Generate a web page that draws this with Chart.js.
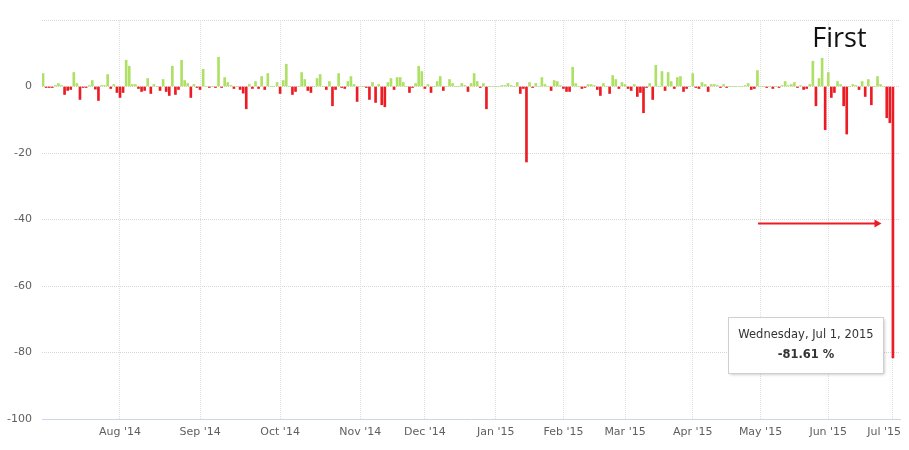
<!DOCTYPE html>
<html>
<head>
<meta charset="utf-8">
<title>Daily change</title>
<script src="https://cdn.jsdelivr.net/npm/chart.js@4.4.0/dist/chart.umd.min.js"></script>
<style>
  html, body { margin: 0; padding: 0; background: #fff; }
  #wrap { width: 909px; height: 450px; position: relative; }
</style>
</head>
<body>
<div id="wrap"><canvas id="chart"></canvas></div>
<script>
// Daily change in %, one bar per trading day (ordinal axis), last point = Jul 1, 2015
const values = [
  3.9, -0.3, -0.3, -0.3, 0.3, 0.9, 0.3, -2.4, -1.2, -0.9, 4.2, 0.9, -3.9, -0.3, -0.3, 0.3, 1.8, -0.8, -4.2, 0.3,
  0.3, 3.6, -0.6, 0.6, -1.8, -3.3, -1.8, 7.9, 6.1, 0.6, 0.6, -0.6, -1.5, -1.2, 2.4, -2.1, 0.6, 0, -1.2, 2.1,
  -1.5, -2.7, 6.1, -2.4, -0.9, 7.9, 1.8, 0.9, -3.3, 0.6, -0.3, -0.9, 5.2, 0, -0.3, 0, -0.3, 8.8, -0.3, 2.7,
  1.2, 0.3, -0.6, 0, -0.9, -2.0, -6.7, 0.6, -0.6, 1.5, -0.6, 3.0, -0.9, 3.9, 0, 0, 1.2, -2.1, 1.8, 6.7,
  0, -2.4, -1.5, 0, 4.2, 2.1, -1.2, -1.8, 0, 2.4, 3.6, 0, -0.9, 1.5, -5.8, -0.9, 3.9, -0.3, -0.6, 1.5,
  3.0, 0.6, -4.5, 0, 0, -0.3, -3.9, 1.2, -4.8, 0.6, -5.5, -6.1, 1.2, 2.4, -0.9, 2.7, 2.7, 1.2, 0, -1.8,
  -0.3, 0.9, 6.1, 4.5, -0.6, 0.6, -1.8, 0, 1.5, 3.0, -1.2, 0, 2.1, 0.9, 0, 0, 0.9, 0.3, -1.5, 0.9,
  3.9, 1.5, -0.3, 0.9, -6.7, 0, 0, 0, 0, 0.3, 0.3, 0.9, 0.3, 0, 1.2, -2.1, -0.6, -22.7, 1.2, -0.3,
  0.9, 0, 2.7, 0.6, 0, -1.2, 1.8, 1.5, 0.3, -0.6, -1.5, -1.5, 5.8, 0.9, 0, -0.6, -0.3, 0.6, 0.6, 0.3,
  -0.9, -2.7, 0.9, 0, -2.1, 3.3, 2.1, -0.6, 1.2, 0.6, -0.6, -1.2, 0.6, -3.0, -1.8, -7.9, -0.3, 0.9, -3.9, 6.4,
  0, 4.5, -1.2, 4.2, 1.5, -0.6, 2.7, 3.0, -1.5, -0.6, 0, 3.9, -0.3, -0.6, 1.2, 0.6, -1.5, 0.6, 0.6, 0.3,
  -0.3, 0.6, -0.3, 0, 0, 0, 0, 0, 0.3, 0.9, -0.9, -0.6, 4.8, 0, 0, -0.3, 0, -0.6, 0, -0.3,
  0.3, 1.5, 0.3, 0.6, 1.2, -0.3, 0.3, -0.9, -0.6, 0.6, 7.6, -5.8, 2.4, 8.5, -13.0, 4.2, -3.3, -1.8, 1.5, 0.6,
  -5.8, -14.3, 0, 0.6, 0.3, -0.9, 1.5, -3.0, 2.1, -5.5, 0, 3.0, 0.6, 0, -9.4, -10.9, -81.61
];

// first trading day of each month (index into values) and its label
const monthIndex = [25, 51, 77, 103, 124, 147, 169, 189, 211, 233, 255, 276];
const monthLabels = ["Aug '14", "Sep '14", "Oct '14", "Nov '14", "Dec '14", "Jan '15",
  "Feb '15", "Mar '15", "Apr '15", "May '15", "Jun '15", "Jul '15"];

const tooltipTitle = 'Wednesday, Jul 1, 2015';
const flagText = 'First';

const GREEN = '#AEE066';
const RED = '#EC1C24';
const FONT = '"DejaVu Sans", Verdana, sans-serif';

// Стрелка, подпись и тултип поверх графика
const overlay = {
  id: 'overlay',
  afterDraw(chart) {
    const { ctx, scales: { x, y } } = chart;
    ctx.save();

    // "First"
    ctx.fillStyle = '#111';
    ctx.font = '27px "Open Sans", sans-serif';
    ctx.textAlign = 'left';
    ctx.textBaseline = 'alphabetic';
    ctx.fillText(flagText, x.getPixelForValue(249.8), y.getPixelForValue(12));

    // red arrow pointing at the last bar
    const ay = Math.round(y.getPixelForValue(-41)) + 0.5;
    const ax1 = x.getPixelForValue(232.2);
    const ax2 = x.getPixelForValue(272.3);
    ctx.strokeStyle = RED;
    ctx.fillStyle = RED;
    ctx.lineWidth = 2;
    ctx.beginPath();
    ctx.moveTo(ax1, ay);
    ctx.lineTo(ax2 - 5, ay);
    ctx.stroke();
    ctx.beginPath();
    ctx.moveTo(ax2, ay);
    ctx.lineTo(ax2 - 7, ay - 4);
    ctx.lineTo(ax2 - 7, ay + 4);
    ctx.closePath();
    ctx.fill();

    // tooltip for the last point
    const last = values.length - 1;
    const el = chart.getDatasetMeta(0).data[last];
    const w = 155, h = 56;
    const bx = Math.round(el.x - 10 - w) + 0.5;
    const by = Math.round(el.y - 41) + 0.5;
    ctx.shadowColor = 'rgba(0,0,0,0.25)';
    ctx.shadowOffsetX = 1;
    ctx.shadowOffsetY = 1;
    ctx.shadowBlur = 3;
    ctx.fillStyle = '#fff';
    ctx.fillRect(bx, by, w, h);
    ctx.shadowColor = 'transparent';
    ctx.strokeStyle = '#cfcfcf';
    ctx.lineWidth = 1;
    ctx.strokeRect(bx, by, w, h);

    ctx.fillStyle = '#333';
    ctx.textAlign = 'center';
    ctx.textBaseline = 'middle';
    ctx.font = '11.5px ' + FONT;
    ctx.fillText(tooltipTitle, bx + w / 2, by + 18);
    ctx.font = 'bold 11.5px ' + FONT;
    ctx.fillText(values[last].toFixed(2) + ' %', bx + w / 2, by + 38);

    ctx.restore();
  }
};

new Chart(document.getElementById('chart'), {
  type: 'bar',
  data: {
    datasets: [{
      data: values.map((v, i) => ({ x: i, y: v })),
      backgroundColor: c => (c.raw && c.raw.y < 0 ? RED : GREEN),
      barThickness: 2,
      borderWidth: 0
    }]
  },
  options: {
    responsive: true,
    maintainAspectRatio: false,
    animation: false,
    layout: { padding: { top: 20, right: 9, bottom: 0, left: 0 } },
    plugins: { legend: { display: false }, tooltip: { enabled: false } },
    scales: {
      x: {
        type: 'linear',
        offset: false,
        min: -0.33,
        max: 278.3,
        afterBuildTicks: axis => { axis.ticks = monthIndex.map(v => ({ value: v })); },
        afterFit: s => { s.height = 31; s.paddingLeft = 0; s.paddingRight = 0; },
        ticks: {
          autoSkip: false,
          maxRotation: 0,
          padding: 7,
          color: '#606060',
          font: { family: FONT, size: 11 },
          // last label is pulled left so it stays inside the canvas
          callback: v => {
            const k = monthIndex.indexOf(v);
            if (k < 0) return null;
            return k === monthIndex.length - 1 ? monthLabels[k] + '     ' : monthLabels[k];
          }
        },
        grid: { color: '#e0e0e0', drawTicks: false, offset: false },
        border: { display: true, color: '#ccd6eb', dash: [1, 1] }
      },
      y: {
        min: -100,
        max: 20,
        afterFit: s => { s.width = 42; s.paddingTop = 0; s.paddingBottom = 0; },
        ticks: {
          stepSize: 20,
          padding: 10,
          color: '#606060',
          font: { family: FONT, size: 11 },
          callback: v => (v > 0 ? '' : v)
        },
        grid: { color: '#d6d6d6', drawTicks: false },
        border: { display: false, dash: [1, 1] }
      }
    }
  },
  plugins: [overlay]
});
</script>
</body>
</html>
